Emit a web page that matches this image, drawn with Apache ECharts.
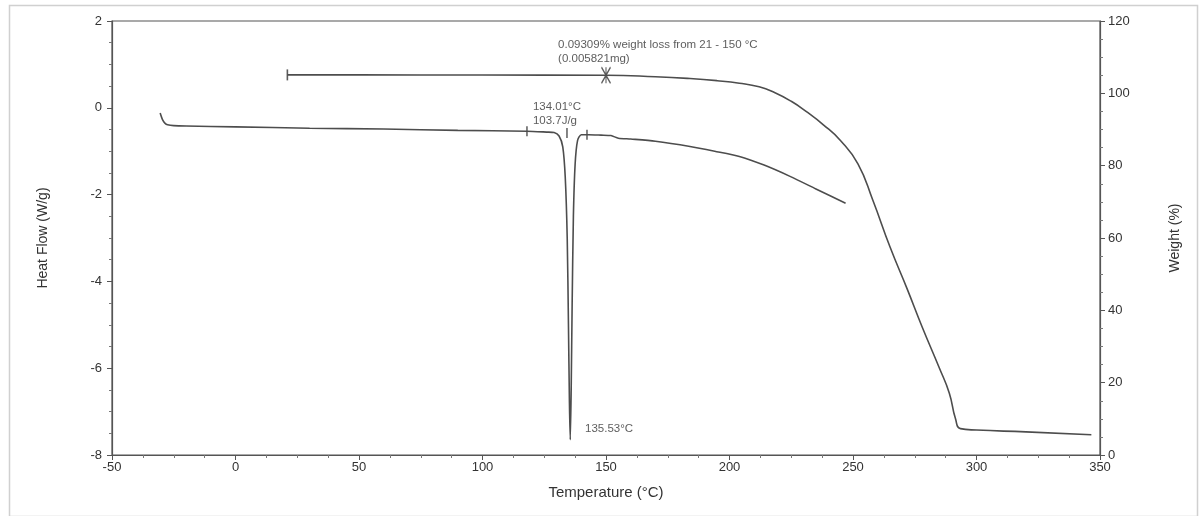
<!DOCTYPE html>
<html lang="en">
<head>
    <meta charset="UTF-8">
    <title>DSC / TGA</title>
    <script src="https://cdn.jsdelivr.net/npm/echarts@6/dist/echarts.min.js"></script>
    <style>
        html, body { margin: 0; padding: 0; background: #fff; }
    </style>
</head>
<body>
<div id="chart" style="width:1200px;height:516px;"></div>
<script>
    // axis ticks
    var tempTicks = [-50, 0, 50, 100, 150, 200, 250, 300, 350];
    var heatTicks = [-8, -6, -4, -2, 0, 2];
    var weightTicks = [0, 20, 40, 60, 80, 100, 120];

    // DSC heat flow curve (W/g)
    var dscTemp = [-30.5, -29.5, -28.5, -27.5, -25, -20, 0, 30, 60, 90, 118, 126, 129, 131, 132.5, 133.5, 134.3, 134.8, 135.2, 135.53,
        135.9, 136.3, 136.8, 137.5, 138.5, 140, 143, 148, 152, 155, 160, 170, 184, 194, 204, 214, 224.5, 235, 247];
    var dscHeat = [-0.12, -0.28, -0.36, -0.39, -0.41, -0.42, -0.44, -0.47, -0.49, -0.52, -0.54, -0.56, -0.57, -0.65, -0.9, -1.6, -3.0, -5.0, -6.8, -7.65,
        -6.5, -4.5, -2.5, -1.3, -0.75, -0.62, -0.62, -0.63, -0.64, -0.7, -0.72, -0.77, -0.89, -1.0, -1.12, -1.32, -1.58, -1.87, -2.2];

    // TGA weight curve (%)
    var tgaTemp = [21, 50, 100, 150, 170, 184, 195, 204, 212, 218, 225, 231, 238, 245, 252, 258, 265, 272, 278, 285, 289, 291.5, 293.5, 300, 320, 346.5];
    var tgaWeight = [105.1, 105.1, 105.05, 105.0, 104.6, 104.1, 103.5, 102.8, 101.8, 100.3, 97.8, 95.0, 91.3, 86.9, 80.5, 70.5, 57.5, 45.8, 35.4, 24.0, 17.1, 10.0, 7.3, 6.9, 6.4, 5.6];

    // integration limit ticks on DSC curve
    var dscMarkTemp = [118, 134.2, 142.3];
    var dscMarkHeat = [-0.54, -0.58, -0.62];

    // TGA range markers (start bar, end cross)
    var tgaMarkTemp = [21, 150];
    var tgaMarkWeight = [105.1, 105.0];

    // annotation texts (anchored at left edge, in temperature / heat-flow units)
    var annoTemp = [130.6, 130.6, 120.4, 120.4, 141.5];
    var annoHeat = [1.45, 1.13, 0.02, -0.3, -7.4];
    var annoText = ['0.09309% weight loss from 21 - 150 \u00B0C', '(0.005821mg)', '134.01\u00B0C', '103.7J/g', '135.53\u00B0C'];

    function pairs(xs, ys) {
        var out = [];
        for (var i = 0; i < xs.length; i++) {
            out.push([xs[i], ys[i]]);
        }
        return out;
    }

    var annoData = [];
    for (var k = 0; k < annoText.length; k++) {
        annoData.push({value: [annoTemp[k], annoHeat[k]], name: annoText[k]});
    }

    var lineColor = '#4d4d4d';
    var textColor = '#333';
    var fontFam = '"Liberation Sans", Arial, sans-serif';

    var myChart = echarts.init(document.getElementById('chart'));
    var option = {
        backgroundColor: '#fff',
        animation: false,
        textStyle: {fontFamily: fontFam},
        graphic: [{
            type: 'rect',
            left: 7, top: 3,
            shape: {width: 1188, height: 511},
            style: {fill: 'none', stroke: '#d0d0d0', lineWidth: 1.5}
        }],
        grid: {
            left: 112, right: 100, top: 21, bottom: 61,
            show: true, borderColor: '#555', borderWidth: 1.2
        },
        xAxis: {
            type: 'value',
            min: tempTicks[0], max: tempTicks[tempTicks.length - 1], interval: 50,
            name: 'Temperature (\u00B0C)', nameLocation: 'middle', nameGap: 30,
            nameTextStyle: {fontSize: 15, color: textColor, fontFamily: fontFam},
            axisLine: {onZero: false, lineStyle: {color: '#555', width: 1.2}},
            axisTick: {length: 5, lineStyle: {color: '#555'}},
            minorTick: {show: true, splitNumber: 4, length: 3, lineStyle: {color: '#777'}},
            splitLine: {show: false},
            axisLabel: {fontSize: 13, color: textColor, margin: 6}
        },
        yAxis: [{
            type: 'value',
            min: heatTicks[0], max: heatTicks[heatTicks.length - 1], interval: 2,
            name: 'Heat Flow (W/g)', nameLocation: 'middle', nameGap: 62,
            nameTextStyle: {fontSize: 14, color: textColor, fontFamily: '"Liberation Sans Narrow", ' + fontFam},
            axisLine: {show: true, onZero: false, lineStyle: {color: '#555', width: 1.2}},
            axisTick: {show: true, length: 5, lineStyle: {color: '#555'}},
            minorTick: {show: true, splitNumber: 4, length: 3, lineStyle: {color: '#777'}},
            splitLine: {show: false},
            axisLabel: {fontSize: 13, color: textColor, margin: 10}
        }, {
            type: 'value',
            position: 'right',
            min: weightTicks[0], max: weightTicks[weightTicks.length - 1], interval: 20,
            name: 'Weight (%)', nameLocation: 'middle', nameGap: 68, nameRotate: 90,
            nameTextStyle: {fontSize: 14, color: textColor, fontFamily: '"Liberation Sans Narrow", ' + fontFam},
            axisLine: {show: true, onZero: false, lineStyle: {color: '#555', width: 1.2}},
            axisTick: {show: true, length: 5, lineStyle: {color: '#555'}},
            minorTick: {show: true, splitNumber: 4, length: 3, lineStyle: {color: '#777'}},
            splitLine: {show: false},
            axisLabel: {fontSize: 13, color: textColor, margin: 8}
        }],
        series: [{
            name: 'Heat Flow',
            type: 'line',
            data: pairs(dscTemp, dscHeat),
            showSymbol: false,
            smooth: 0.25,
            lineStyle: {color: lineColor, width: 1.6}
        }, {
            name: 'Weight',
            type: 'line',
            yAxisIndex: 1,
            data: pairs(tgaTemp, tgaWeight),
            showSymbol: false,
            smooth: 0.5,
            lineStyle: {color: lineColor, width: 1.6}
        }, {
            name: 'dsc marks',
            type: 'scatter',
            data: pairs(dscMarkTemp, dscMarkHeat),
            symbol: 'rect',
            symbolSize: [1.5, 10],
            itemStyle: {color: '#333'},
            silent: true
        }, {
            name: 'tga marks',
            type: 'scatter',
            yAxisIndex: 1,
            data: [
                {value: [tgaMarkTemp[0], tgaMarkWeight[0]], symbol: 'rect', symbolSize: [1.6, 11], itemStyle: {color: '#333'}},
                {value: [tgaMarkTemp[1], tgaMarkWeight[1]], symbol: 'path://M0,0L10,16M10,0L0,16M5,0L5,16', symbolSize: [9, 16],
                    itemStyle: {color: 'none', borderColor: '#333', borderWidth: 1.4}}
            ],
            silent: true
        }, {
            name: 'annotations',
            type: 'scatter',
            data: annoData,
            symbolSize: 0,
            silent: true,
            label: {
                show: true,
                position: 'right',
                distance: 0,
                formatter: '{b}',
                fontSize: 11.5,
                color: textColor,
                fontFamily: fontFam
            }
        }]
    };
    myChart.setOption(option);
</script>
</body>
</html>
